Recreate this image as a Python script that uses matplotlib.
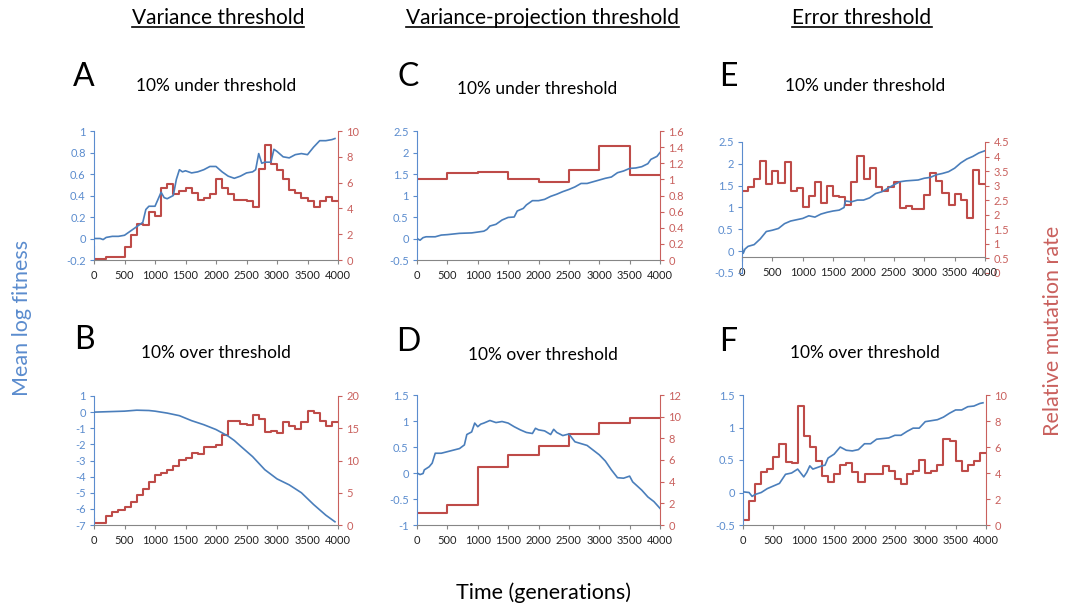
import matplotlib
matplotlib.use("Agg")
import matplotlib.pyplot as plt
from matplotlib.lines import Line2D
from matplotlib.ticker import FuncFormatter, MultipleLocator
import numpy as np

plt.rcParams['font.family'] = ['Lato', 'DejaVu Sans']

BLUE = '#4a7ebb'
BLUE_TXT = '#5b8cce'
RED = '#be4b48'
RED_TXT = '#c9605d'

# ---- data ----
gens = np.arange(0, 4001, 100)

# A: variance threshold, 10% under
a_fit_x = [0, 100, 150, 200, 300, 400, 500, 600, 700, 800, 850, 900, 1000, 1100, 1150, 1200,
           1300, 1350, 1400, 1450, 1500, 1600, 1700, 1800, 1900, 2000, 2100, 2200, 2300, 2400,
           2500, 2600, 2650, 2700, 2750, 2800, 2900, 2950, 3000, 3100, 3200, 3300, 3400, 3500,
           3600, 3700, 3800, 3900, 3950]
a_fit = [0.0, 0.0, -0.01, 0.01, 0.02, 0.02, 0.03, 0.07, 0.11, 0.15, 0.27, 0.30, 0.30, 0.43, 0.38, 0.37,
         0.40, 0.55, 0.64, 0.62, 0.63, 0.61, 0.62, 0.64, 0.67, 0.67, 0.62, 0.58, 0.56, 0.58,
         0.61, 0.62, 0.64, 0.79, 0.70, 0.71, 0.71, 0.83, 0.81, 0.76, 0.75, 0.78, 0.79, 0.78,
         0.85, 0.91, 0.91, 0.92, 0.93]
a_rate = [0.05, 0.05, 0.2, 0.26, 0.26, 1.03, 1.9, 2.76, 2.68, 3.69, 3.43, 5.57, 5.93, 5.08, 5.36,
          5.57, 5.2, 4.64, 4.82, 5.1, 6.26, 5.62, 5.15, 4.64, 4.64, 4.59, 4.07, 7.06, 8.89, 7.47,
          6.96, 6.31, 5.46, 5.2, 4.77, 4.59, 4.07, 4.59, 4.85, 4.59]

# B: variance threshold, 10% over
b_fit_x = [0, 500, 700, 900, 1000, 1200, 1400, 1600, 1800, 2000, 2200, 2300, 2400, 2600, 2800,
           3000, 3200, 3400, 3600, 3800, 3950]
b_fit = [0.0, 0.06, 0.12, 0.1, 0.06, -0.06, -0.22, -0.53, -0.78, -1.08, -1.49, -1.76, -2.1, -2.76,
         -3.57, -4.14, -4.51, -5.0, -5.73, -6.39, -6.8]
b_rate = [0.26, 0.26, 1.44, 1.96, 2.3, 2.8, 3.5, 4.6, 5.6, 6.6, 7.7, 8.1, 8.45, 9.2, 10.05, 10.4,
          11.1, 11.0, 12.1, 12.05, 12.4, 13.9, 16.1, 16.1, 15.7, 15.5, 17.0, 16.4, 14.4, 14.5,
          14.3, 16.0, 15.4, 14.9, 16.0, 17.7, 17.4, 16.1, 15.4, 15.9]

# C: variance-projection threshold, 10% under
c_fit_x = [0, 50, 100, 150, 300, 400, 500, 700, 900, 1000, 1100, 1150, 1200, 1300, 1400, 1500,
           1600, 1650, 1750, 1800, 1900, 2000, 2100, 2200, 2300, 2400, 2500, 2600, 2700, 2800,
           2900, 3000, 3100, 3200, 3300, 3400, 3500, 3600, 3700, 3800, 3850, 3950, 4000]
c_fit = [0.0, -0.04, 0.02, 0.04, 0.04, 0.08, 0.09, 0.12, 0.13, 0.15, 0.17, 0.21, 0.29, 0.33, 0.43,
         0.49, 0.5, 0.64, 0.7, 0.78, 0.88, 0.88, 0.91, 0.98, 1.03, 1.09, 1.14, 1.2, 1.28, 1.28,
         1.32, 1.36, 1.4, 1.43, 1.53, 1.57, 1.63, 1.64, 1.67, 1.74, 1.84, 1.91, 2.0]
c_rate_x = [0, 500, 1000, 1500, 2000, 2500, 3000, 3500]
c_rate = [1.0, 1.08, 1.09, 1.0, 0.97, 1.12, 1.42, 1.05]

# D: variance-projection threshold, 10% over
d_fit_x = [0, 50, 100, 120, 200, 250, 300, 400, 500, 600, 700, 780, 820, 900, 950, 1000, 1050,
           1100, 1200, 1300, 1400, 1500, 1600, 1700, 1800, 1900, 1950, 2000, 2100, 2200, 2250,
           2300, 2400, 2500, 2600, 2800, 3000, 3100, 3200, 3300, 3400, 3500, 3550, 3700, 3800,
           3900, 4000]
d_fit = [0.0, -0.03, -0.01, 0.06, 0.12, 0.19, 0.38, 0.38, 0.41, 0.44, 0.47, 0.54, 0.74, 0.79,
         0.96, 0.89, 0.94, 0.96, 1.01, 0.97, 0.99, 0.96, 0.89, 0.83, 0.78, 0.76, 0.86, 0.83, 0.81,
         0.74, 0.84, 0.78, 0.72, 0.75, 0.6, 0.53, 0.35, 0.23, 0.06, -0.09, -0.1, -0.06, -0.17,
         -0.33, -0.46, -0.55, -0.68]
d_rate_x = [0, 500, 1000, 1500, 2000, 2500, 3000, 3500]
d_rate = [1.1, 1.85, 5.32, 6.46, 7.32, 8.37, 9.45, 9.9]

# E: error threshold, 10% under
e_fit_x = [0, 20, 50, 100, 200, 300, 400, 500, 600, 700, 800, 900, 1000, 1100, 1200, 1300, 1400,
           1500, 1600, 1680, 1700, 1800, 1900, 2000, 2100, 2200, 2300, 2400, 2500, 2600, 2700,
           2800, 2900, 3000, 3100, 3200, 3300, 3400, 3500, 3600, 3700, 3800, 3900, 4000]
e_fit = [0.1, -0.05, 0.05, 0.11, 0.15, 0.28, 0.45, 0.48, 0.52, 0.63, 0.69, 0.72, 0.75, 0.81, 0.78,
         0.85, 0.89, 0.92, 0.94, 1.0, 1.15, 1.13, 1.17, 1.17, 1.22, 1.32, 1.36, 1.44, 1.52, 1.59,
         1.61, 1.62, 1.63, 1.67, 1.69, 1.75, 1.78, 1.82, 1.9, 2.02, 2.11, 2.17, 2.25, 2.3]
e_rate = [2.81, 2.97, 3.22, 3.86, 3.06, 3.49, 3.08, 3.83, 2.81, 2.92, 2.28, 2.63, 3.11, 2.4, 2.98,
          2.66, 2.6, 2.35, 3.11, 4.03, 3.23, 3.62, 2.95, 2.81, 2.95, 3.11, 2.24, 2.31, 2.19, 2.19,
          2.69, 3.43, 3.15, 2.74, 2.32, 2.72, 2.52, 1.88, 3.54, 3.06]

# F: error threshold, 10% over
f_fit_x = [0, 100, 150, 200, 300, 400, 500, 600, 700, 800, 900, 1000, 1050, 1100, 1150, 1300,
           1350, 1400, 1500, 1600, 1700, 1800, 1900, 2000, 2100, 2200, 2400, 2500, 2600, 2700,
           2800, 2900, 3000, 3200, 3300, 3400, 3500, 3600, 3700, 3800, 3900, 3950]
f_fit = [0.01, 0.0, -0.06, -0.03, 0.0, 0.06, 0.1, 0.14, 0.28, 0.3, 0.36, 0.24, 0.31, 0.41, 0.36,
         0.41, 0.42, 0.53, 0.59, 0.7, 0.65, 0.64, 0.66, 0.75, 0.75, 0.82, 0.84, 0.88, 0.88, 0.94,
         0.99, 0.99, 1.09, 1.12, 1.16, 1.22, 1.27, 1.27, 1.32, 1.33, 1.37, 1.38]
f_rate = [0.38, 1.87, 3.13, 4.1, 4.31, 5.2, 6.26, 4.87, 4.8, 9.15, 6.85, 6.0, 4.92, 3.8, 3.28,
          3.95, 4.62, 4.74, 4.05, 3.33, 3.92, 3.9, 3.92, 4.56, 4.18, 3.54, 3.15, 3.92, 4.15, 5.0,
          4.0, 4.15, 4.62, 6.62, 6.46, 4.92, 4.15, 4.62, 4.92, 5.54]

W, H = 1075, 615
fig = plt.figure(figsize=(W / 100, H / 100), dpi=100)


def rect(x0, x1, y0, y1):
    return [x0 / W, 1 - y1 / H, (x1 - x0) / W, (y1 - y0) / H]


fmt = FuncFormatter(lambda v, p: '%g' % round(v, 3))


def panel(box, fx, fy, rx, ry, ylim, ystep, rlim, rstep, start=1.0, xline=None):
    ax = fig.add_axes(rect(*box))
    ax2 = ax.twinx()
    ax.plot(fx, fy, color=BLUE, lw=1.2, zorder=3)
    # step curve for the mutation rate, starting at 1 at time 0
    sx = [0] + list(rx) + [4000]
    sy = [start] + list(ry) + [ry[-1]]
    ax2.step(sx, sy, where='post', color=RED, lw=1.5)
    ax.set_xlim(0, 4000)
    ax.set_ylim(*ylim)
    ax2.set_ylim(*rlim)
    ax.xaxis.set_major_locator(MultipleLocator(500))
    ax.yaxis.set_major_locator(MultipleLocator(ystep))
    ax2.yaxis.set_major_locator(MultipleLocator(rstep))
    ax.yaxis.set_major_formatter(fmt)
    ax2.yaxis.set_major_formatter(fmt)
    for a in (ax, ax2):
        a.spines['top'].set_visible(False)
        a.patch.set_visible(False)
    ax.spines['right'].set_visible(False)
    ax2.spines['left'].set_visible(False)
    ax2.spines['bottom'].set_visible(False)
    ax.spines['left'].set_color(BLUE_TXT)
    ax2.spines['right'].set_color(RED_TXT)
    ax.spines['bottom'].set_color('#868686')
    ax.tick_params(axis='y', colors=BLUE_TXT, labelsize=8, length=3, width=0.8, pad=3)
    ax2.tick_params(axis='y', colors=RED_TXT, labelsize=8, length=3, width=0.8, pad=3)
    ax.tick_params(axis='x', colors='#868686', labelcolor='#222222', labelsize=8,
                   length=3, width=0.8, pad=4)
    if xline is not None:
        ax.spines['bottom'].set_position(('data', xline[0]))
        ax2.spines['right'].set_bounds(xline[1], rlim[1])
    ax.set_zorder(ax2.get_zorder() + 1)
    return ax


panel((94, 338, 131, 260), a_fit_x, a_fit, gens[:-1], a_rate, (-0.2, 1), 0.2, (0, 10), 2)
panel((94, 338, 396, 525), b_fit_x, b_fit, gens[:-1], b_rate, (-7, 1), 1, (0, 20), 5)
panel((417, 660, 131, 260), c_fit_x, c_fit, c_rate_x, c_rate, (-0.5, 2.5), 0.5, (0, 1.6), 0.2,
      start=1.0)
panel((417, 660, 395, 525), d_fit_x, d_fit, d_rate_x, d_rate, (-1, 1.5), 0.5, (0, 12), 2,
      start=1.1)
panel((742, 985, 142, 273), e_fit_x, e_fit, gens[:-1], e_rate, (-0.5, 2.5), 0.5, (0, 4.5), 0.5,
      xline=(-0.13, 0.5))
panel((743, 986, 395, 525), f_fit_x, f_fit, gens[:-1], f_rate, (-0.5, 1.5), 0.5, (0, 10), 2)


def ftext(x, y, s, **kw):
    return fig.text(x / W, 1 - y / H, s, ha='center', va='center', **kw)


heads = [ftext(218, 18, 'Variance threshold', fontsize=15),
         ftext(542, 18, 'Variance-projection threshold', fontsize=15),
         ftext(862, 18, 'Error threshold', fontsize=15)]

for x, y, s in [(84, 77, 'A'), (84, 340, 'B'), (408, 77, 'C'), (408, 342, 'D'),
                (728, 77, 'E'), (728, 342, 'F')]:
    ftext(x, y, s, fontsize=23)

for x, y, s in [(216, 86, '10% under threshold'), (537, 89, '10% under threshold'),
                (865, 86, '10% under threshold'), (216, 353, '10% over threshold'),
                (543, 355, '10% over threshold'), (865, 353, '10% over threshold')]:
    ftext(x, y, s, fontsize=12.5)

ftext(22, 318, 'Mean log fitness', fontsize=15.5, rotation=90, color=BLUE_TXT)
ftext(1053, 331, 'Relative mutation rate', fontsize=15.5, rotation=90, color=RED_TXT)
ftext(544, 593, 'Time (generations)', fontsize=15.5)

# underline the column headers
fig.canvas.draw()
inv = fig.transFigure.inverted()
for t in heads:
    bb = t.get_window_extent()
    (x0, y0), (x1, _) = inv.transform([(bb.x0, bb.y0 + 1), (bb.x1, bb.y0)])
    fig.add_artist(Line2D([x0, x1], [y0, y0], color='black', lw=1.2, transform=fig.transFigure))

fig.savefig('out.png', dpi=100)
